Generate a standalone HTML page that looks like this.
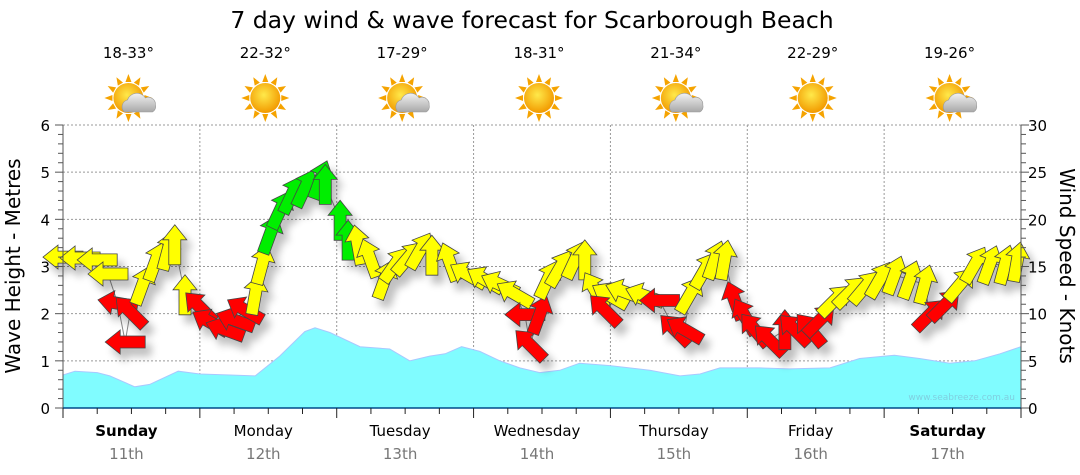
<!DOCTYPE html>
<html><head><meta charset="utf-8"><style>
body{margin:0;background:#fff;}
svg{display:block;font-family:"DejaVu Sans","Liberation Sans",sans-serif;}
</style></head><body>
<svg id="chart" width="1080" height="475" viewBox="0 0 1080 475">
<defs>
<filter id="sh" x="-50%" y="-50%" width="200%" height="200%"><feGaussianBlur in="SourceAlpha" stdDeviation="4"/><feOffset dx="6" dy="8"/><feComponentTransfer><feFuncA type="linear" slope="0.25"/></feComponentTransfer><feMerge><feMergeNode/><feMergeNode in="SourceGraphic"/></feMerge></filter>
<radialGradient id="sunG" cx="45%" cy="40%" r="60%"><stop offset="0" stop-color="#ffe94a"/><stop offset="1" stop-color="#f29a00"/></radialGradient>
<linearGradient id="cloudG" x1="0" y1="0" x2="0" y2="1"><stop offset="0" stop-color="#f2f2f2"/><stop offset="1" stop-color="#a8a8a8"/></linearGradient>
</defs>
<text x="532" y="28" font-size="23.5" text-anchor="middle" fill="#000">7 day wind &amp; wave forecast for Scarborough Beach</text>
<g id="grid"></g>
<g id="waves"></g>
<g id="windline"></g>
<g id="arrows"></g>
<g id="axes"></g>
<g id="header"></g>
<text x="1015" y="400" font-size="9" text-anchor="end" fill="#7fcfe0">www.seabreeze.com.au</text>
<text transform="translate(20,266) rotate(-90)" font-size="20" text-anchor="middle">Wave Height - Metres</text>
<text transform="translate(1060,266) rotate(90)" font-size="20" text-anchor="middle">Wind Speed - Knots</text>
</svg>
<script>
const dayNames=["Sunday","Monday","Tuesday","Wednesday","Thursday","Friday","Saturday"];
const dayDates=["11th","12th","13th","14th","15th","16th","17th"];
const dayBold=[true,false,false,false,false,false,true];
const dayTemps=["18-33°","22-32°","17-29°","18-31°","21-34°","22-29°","19-26°"];
const dayCloudy=[true,false,true,false,true,false,true];
const waveTicks=[0,1,2,3,4,5,6];
const windTicks=[0,5,10,15,20,25,30];
const waveHours=[0,2.1,6.0,8.2,12.6,15.2,20.2,24.0,29.3,33.7,38.0,42.4,44.2,46.8,52.1,57.3,60.8,64.3,67.0,69.9,73.1,76.6,80.1,83.6,87.1,90.6,95.9,102.9,108.2,111.7,115.2,122.2,127.4,134.5,139.7,145.8,150.2,155.5,159.9,164.3,168.0];
const waveHeights=[0.7,0.78,0.75,0.68,0.45,0.5,0.78,0.72,0.7,0.68,1.1,1.62,1.7,1.6,1.3,1.25,1.0,1.1,1.15,1.3,1.2,1.0,0.85,0.75,0.8,0.95,0.9,0.8,0.68,0.72,0.85,0.85,0.83,0.85,1.05,1.12,1.05,0.95,1.0,1.15,1.3];
const windHours=[0,3.0,6.0,7.9,9.6,10.9,11.8,13.9,16.2,18.4,19.6,21.4,24.0,25.8,28.4,30.2,31.9,33.7,34.9,36.3,38.1,40.1,42.4,45.1,46.0,48.6,50.0,51.7,53.8,56.4,58.2,60.5,62.6,64.7,67.8,71.0,74.0,76.6,79.2,81.0,81.9,83.6,85.0,87.1,89.8,91.5,93.3,95.9,95.0,98.5,102.0,104.6,107.3,109.0,109.9,112.5,114.3,116.0,117.8,119.6,121.3,123.9,126.6,128.3,131.0,132.7,135.3,138.0,140.6,143.2,145.8,148.5,151.1,152.0,154.6,157.3,159.9,162.5,165.2,167.3];
const windKnots=[16.0,15.9,15.7,14.2,11.1,7.0,10.2,13.0,15.5,16.7,17.3,12.0,10.7,9.1,8.3,9.3,10.4,12.0,15.2,18.4,21.0,22.6,23.3,24.2,23.7,19.9,17.8,17.3,15.9,13.6,15.2,15.9,16.7,16.2,15.5,14.1,13.6,13.1,12.1,9.9,6.7,9.9,13.6,14.8,15.7,15.7,12.5,11.9,10.4,12.3,11.9,11.4,8.3,8.3,12.0,14.6,15.7,15.7,11.4,9.7,8.3,7.2,8.3,8.3,8.3,9.3,11.4,12.3,12.8,13.6,14.1,13.6,13.1,9.9,10.9,13.1,15.2,15.2,15.2,15.5];
const windDir=[270,270,270,270,280,270,315,20,20,15,0,0,315,300,290,290,300,10,15,20,25,25,25,20,0,0,0,350,340,20,35,40,30,0,340,300,300,295,300,270,315,20,25,30,25,0,330,300,315,290,290,270,315,300,30,30,20,10,340,330,320,315,0,315,320,45,45,45,40,30,20,20,15,45,45,40,30,20,15,10];
const windClass=["Y","Y","Y","Y","R","R","R","Y","Y","Y","Y","Y","R","R","R","R","R","Y","Y","G","G","G","G","G","G","G","G","Y","Y","Y","Y","Y","Y","Y","Y","Y","Y","Y","Y","R","R","R","Y","Y","Y","Y","Y","Y","R","Y","Y","R","R","R","Y","Y","Y","Y","R","R","R","R","R","R","R","R","Y","Y","Y","Y","Y","Y","Y","R","R","Y","Y","Y","Y","Y"];

const NS="http://www.w3.org/2000/svg";
const X0=63,X1=1021,Y0=408,Y1=125;
const xH=h=>X0+h/168*(X1-X0);
const yM=m=>Y0-m/6*(Y0-Y1);
const yK=k=>Y0-k/30*(Y0-Y1);
function mk(tag,attrs,parent){const e=document.createElementNS(NS,tag);for(const k in attrs)e.setAttribute(k,attrs[k]);parent.appendChild(e);return e;}
const grid=document.getElementById('grid');
waveTicks.forEach(t=>{if(t>0){const l=mk('line',{x1:X0,x2:X1,y1:yM(t),y2:yM(t),stroke:'#999','stroke-dasharray':'2,2','stroke-width':1},grid);

}});
for(let d=1;d<7;d++){const l=mk('line',{x1:xH(d*24),x2:xH(d*24),y1:Y1,y2:Y0,stroke:'#999','stroke-dasharray':'2,2','stroke-width':1},grid);

}
const wv=document.getElementById('waves');
let d='M'+xH(waveHours[0])+','+Y0;
waveHours.forEach((h,i)=>{d+=' L'+xH(h).toFixed(1)+','+yM(waveHeights[i]).toFixed(1);});
d+=' L'+xH(waveHours[waveHours.length-1])+','+Y0+' Z';
const wa=mk('path',{d:d,fill:'#80fcff',stroke:'#a8c8ff','stroke-width':1},wv);


const wl=document.getElementById('windline');
let ld='';windHours.forEach((h,i)=>{ld+=(i?' L':'M')+xH(h).toFixed(1)+','+yK(windKnots[i]).toFixed(1);});
const wp=mk('path',{d:ld,fill:'none',stroke:'#888','stroke-width':1},wl);


const colors={R:'#ff0000',Y:'#ffff00',G:'#00ee00'};
const ag=document.getElementById('arrows');
ag.setAttribute('filter','url(#sh)');
const shape="M0,-20 L12,-5 L6,-5 L6,20 L-6,20 L-6,-5 L-12,-5 Z";
windHours.forEach((h,i)=>{
  const a=mk('path',{d:shape,fill:colors[windClass[i]],stroke:'#444','stroke-width':0.8,'stroke-linejoin':'miter',
    transform:'translate('+xH(h).toFixed(1)+','+yK(windKnots[i]).toFixed(1)+') rotate('+windDir[i]+')'},ag);
  
  
});
const ax=document.getElementById('axes');
mk('line',{x1:X0,x2:X0,y1:Y1,y2:Y0,stroke:'#555','stroke-width':1},ax);
mk('line',{x1:X1,x2:X1,y1:Y1,y2:Y0,stroke:'#555','stroke-width':1},ax);
const bl=mk('line',{x1:X0,x2:X1,y1:Y0,y2:Y0,stroke:'#004a8a','stroke-width':1.5},ax);


for(let m=0;m<=30;m++){const y=yM(m*0.2);mk('line',{x1:m%5?X0-5:X0-8,x2:X0,y1:y,y2:y,stroke:'#555'},ax);}
for(let k=0;k<=30;k++){const y=yK(k);mk('line',{x1:X1,x2:k%5?X1+5:X1+8,y1:y,y2:y,stroke:'#555'},ax);}
for(let h=0;h<=168;h+=6){const x=xH(h);mk('line',{x1:x,x2:x,y1:Y0,y2:Y0+(h%24?6:10),stroke:'#222'},ax);}
waveTicks.forEach(t=>{const e=mk('text',{x:50,y:yM(t)+6,'font-size':15,'text-anchor':'end'},ax);e.textContent=t;

});
windTicks.forEach(t=>{const e=mk('text',{x:1028,y:yK(t)+6,'font-size':15,'text-anchor':'start'},ax);e.textContent=t;

});
const hg=document.getElementById('header');
dayNames.forEach((n,i)=>{
  const cx=xH(i*24+12)-3;
  const t=mk('text',{x:cx,y:58,'font-size':15,'text-anchor':'middle'},hg);t.textContent=dayTemps[i];
  
  
  const g=mk('g',{transform:'translate('+cx+',98)'},hg);
  
  
  for(let r=0;r<12;r++){mk('path',{d:'M-3,-16 L0,-24 L3,-16 Z',fill:'#f5a300',transform:'rotate('+(r*30)+')'},g);}
  mk('circle',{r:15,fill:'url(#sunG)'},g);
  if(dayCloudy[i]){
    mk('path',{d:'M-4,14 a7,7 0 0 1 3,-12 a10,10 0 0 1 18,-2 a7,7 0 0 1 10,7 a6,6 0 0 1 -3,7 Z',fill:'url(#cloudG)',stroke:'#999','stroke-width':0.6},g);
  }
  const dn=mk('text',{x:xH(i*24+12)-5,y:436,'font-size':15,'text-anchor':'middle','font-weight':dayBold[i]?'bold':'normal'},hg);dn.textContent=n;
  
  
  const dd=mk('text',{x:xH(i*24+12)-5,y:459,'font-size':15,'text-anchor':'middle',fill:'#777'},hg);dd.textContent=dayDates[i];
  
  
});
</script>
</body></html>
